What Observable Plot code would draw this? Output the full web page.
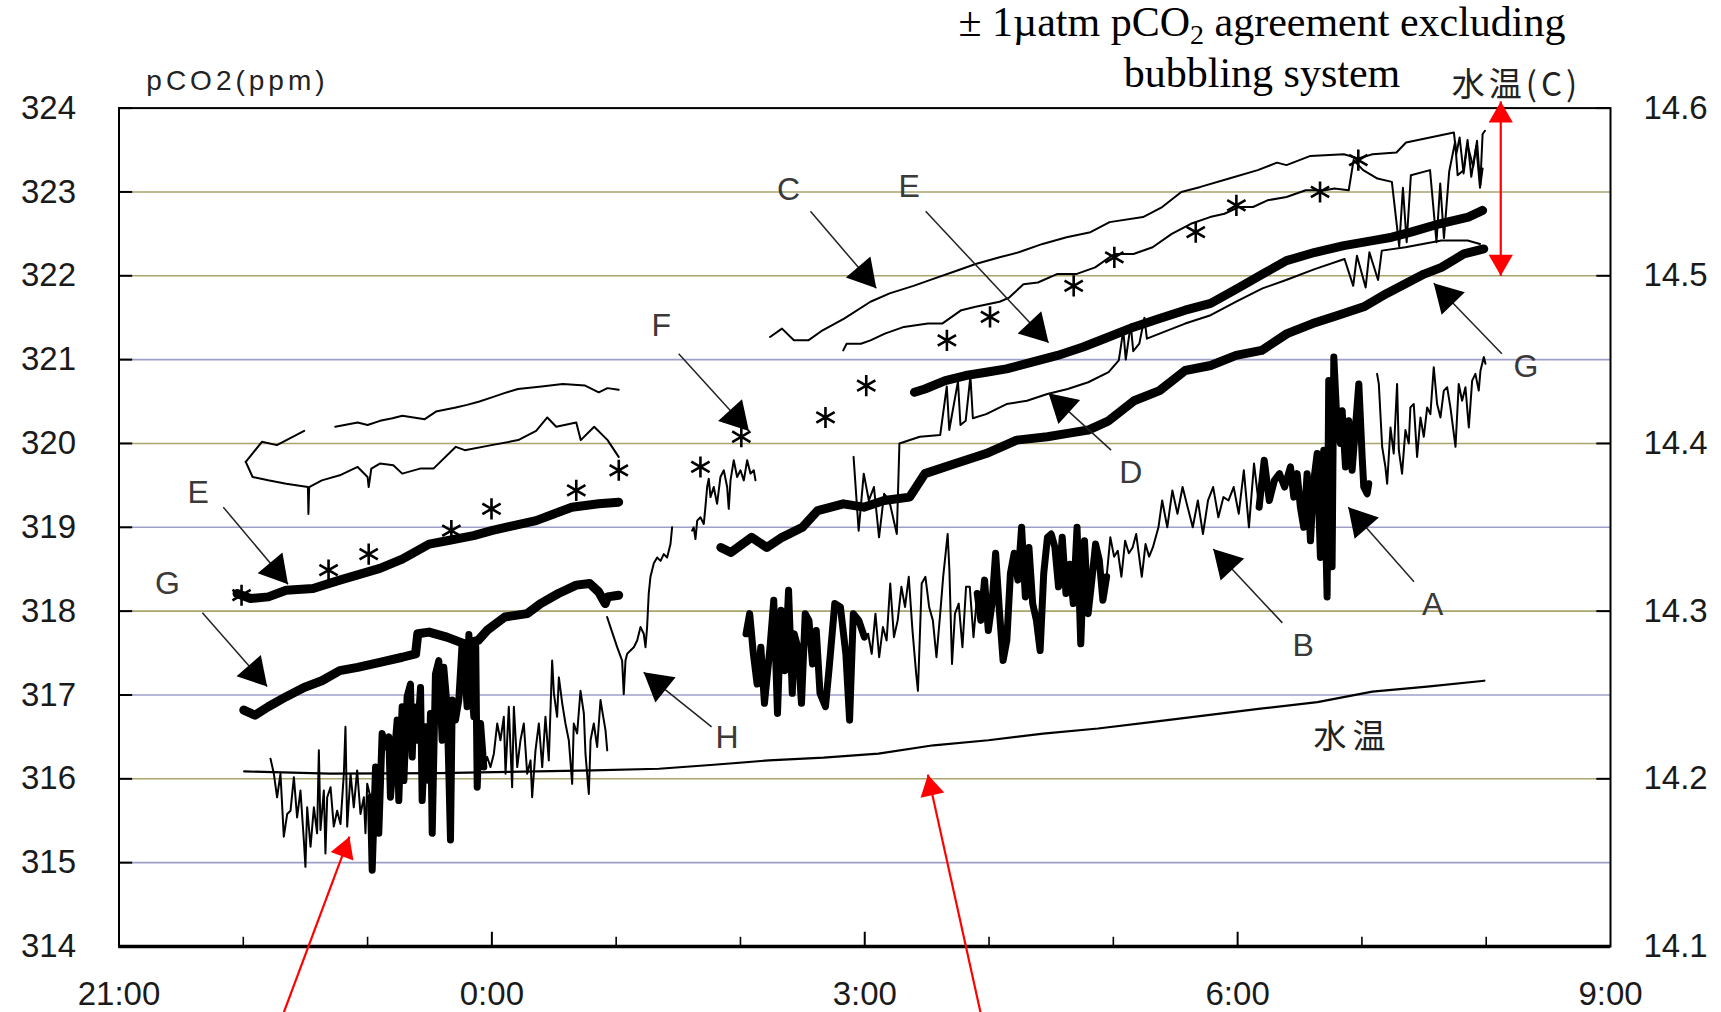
<!DOCTYPE html>
<html><head><meta charset="utf-8">
<script src="https://cdn.jsdelivr.net/npm/d3@7"></script>
<script src="https://cdn.jsdelivr.net/npm/@observablehq/plot@0.6"></script>
<style>
body{margin:0;background:#fff;}
#wrap{position:relative;width:1721px;height:1012px;overflow:hidden;background:#fff;}
#title{position:absolute;left:912px;top:-3px;width:700px;text-align:center;font-family:"Liberation Serif","Times New Roman",serif;font-size:42px;line-height:51px;color:#000;}
#title sub{font-size:28px;line-height:0;vertical-align:-8px;}
</style></head><body>
<div id="wrap"><div id="chart"></div><div id="title">± 1µatm pCO<sub>2</sub> agreement excluding<br>bubbling system</div></div>
<script>
// ---- axes (x in hours after 21:00) ----
const majorHours = [0, 3, 6, 9, 12];
const timeLabels = ["21:00", "0:00", "3:00", "6:00", "9:00"];
const minorHours = [1, 2, 4, 5, 7, 8, 10, 11];
const ppmTicks = [314, 315, 316, 317, 318, 319, 320, 321, 322, 323, 324];
const tempTicks = [14.1, 14.2, 14.3, 14.4, 14.5, 14.6];
const gridOlive = [323, 322, 320, 318, 316];
const gridBlue = [321, 319, 317, 315];

// ---- left group (22:00 - 1:00) ----
const cLeft = [[1.02,319.78],[1.15,320.02],[1.27,319.98],[1.49,320.15],[1.6,null],[1.74,320.20],[1.92,320.25],[2.0,320.22],[2.1,320.27],[2.2,320.30],[2.28,320.33],[2.46,320.29],[2.55,320.38],[2.71,320.43],[2.8,320.46],[2.9,320.50],[3.0,320.55],[3.1,320.60],[3.21,320.65],[3.4,320.68],[3.57,320.71],[3.75,320.69],[3.86,320.61],[3.93,320.66],[4.02,320.64]];
const dLeft = [[1.02,319.78],[1.075,319.60],[1.20,319.56],[1.345,319.52],[1.52,319.48],[1.524,319.16],[1.53,319.48],[1.632,319.56],[1.776,319.62],[1.92,319.72],[2.0,319.60],[2.009,319.48],[2.03,319.70],[2.099,319.76],[2.207,319.74],[2.279,319.64],[2.422,319.70],[2.53,319.70],[2.71,319.96],[2.782,319.92],[2.997,319.98],[3.212,320.04],[3.356,320.15],[3.446,320.31],[3.518,320.20],[3.679,320.25],[3.715,320.04],[3.823,320.20],[3.931,320.04],[4.02,319.84]];
const eLeft = [[0.95,318.21],[1.058,318.15],[1.201,318.17],[1.345,318.25],[1.561,318.27],[1.776,318.37],[2.099,318.51],[2.279,318.62],[2.495,318.80],[2.639,318.84],[2.853,318.90],[2.997,318.96],[3.356,319.08],[3.643,319.24],[3.859,319.28],[4.02,319.30]];
const gLeft = [[1.004,316.82],[1.094,316.76],[1.201,316.86],[1.345,316.98],[1.489,317.09],[1.632,317.17],[1.776,317.29],[1.92,317.33],[2.099,317.39],[2.279,317.45],[2.386,317.49],[2.404,317.73],[2.494,317.75],[2.638,317.69],[2.781,317.61],[2.889,317.65],[2.961,317.77],[3.104,317.93],[3.284,317.97],[3.392,318.09],[3.535,318.21],[3.679,318.31],[3.787,318.33],[3.859,318.23],[3.912,318.09],[3.93,318.17],[4.02,318.19]];
const noisyLeft = [[1.219,316.24],[1.246,316.06],[1.272,315.78],[1.299,316.06],[1.326,315.31],[1.353,315.58],[1.380,315.62],[1.407,316.02],[1.433,315.54],[1.460,315.86],[1.487,315.27],[1.500,314.95],[1.514,315.66],[1.541,315.19],[1.568,315.66],[1.594,315.35],[1.608,316.34],[1.621,315.39],[1.648,315.86],[1.661,315.11],[1.675,315.78],[1.702,315.90],[1.728,315.43],[1.755,315.62],[1.782,315.46],[1.809,316.06],[1.822,316.62],[1.836,315.43],[1.863,316.06],[1.889,315.66],[1.916,316.10],[1.943,315.58],[1.970,315.78],[1.983,315.35],[1.997,315.94],[2.023,315.78],[2.037,314.91],[2.064,316.14],[2.090,315.35],[2.117,316.54],[2.144,316.38],[2.171,316.50],[2.184,315.78],[2.211,316.26],[2.225,316.46],[2.238,316.70],[2.251,315.74],[2.278,316.86],[2.292,315.98],[2.318,316.98],[2.345,317.13],[2.359,316.26],[2.372,316.86],[2.399,316.46],[2.426,317.09],[2.439,315.74],[2.466,316.62],[2.493,315.98],[2.506,316.78],[2.520,315.35],[2.546,317.25],[2.573,317.41],[2.600,316.46],[2.613,317.33],[2.640,316.86],[2.654,316.06],[2.667,315.27],[2.681,316.94],[2.707,316.70],[2.734,316.94],[2.761,317.62],[2.788,317.13],[2.801,316.86],[2.815,317.72],[2.828,317.25],[2.855,316.74],[2.87,317.58],[2.882,315.90],[2.895,316.46],[2.909,316.66],[2.935,316.14],[2.962,316.26],[2.989,316.14],[3.016,316.30],[3.043,316.66],[3.069,316.46],[3.096,316.74],[3.110,316.06],[3.136,316.86],[3.163,315.90],[3.177,316.86],[3.204,316.14],[3.230,316.46],[3.257,316.66],[3.284,316.06],[3.311,316.22],[3.324,315.78],[3.351,316.34],[3.378,316.66],[3.405,316.14],[3.431,316.74],[3.458,316.22],[3.485,317.41],[3.499,317.02],[3.525,316.74],[3.539,317.21],[3.566,316.90],[3.592,316.66],[3.619,316.46],[3.646,315.94],[3.659,316.66],[3.686,316.54],[3.713,317.05],[3.740,316.78],[3.753,316.30],[3.780,315.82],[3.794,316.46],[3.820,316.66],[3.847,316.38],[3.874,316.94],[3.887,316.82],[3.914,316.58],[3.928,316.34]];
const noisyLeftThick = [[2.0, 2.94]];

// ---- middle (H and F) ----
const hSeries = [[3.927,317.93],[3.954,317.81],[4.008,317.57],[4.048,317.41],[4.061,317.01],[4.075,317.41],[4.088,317.49],[4.115,317.53],[4.142,317.57],[4.169,317.65],[4.196,317.81],[4.222,317.73],[4.236,317.57],[4.249,317.81],[4.262,318.21],[4.276,318.41],[4.303,318.57],[4.33,318.64],[4.357,318.60],[4.383,318.68],[4.41,318.64],[4.437,318.80],[4.45,319.00]];
const fNoisy = [[4.611,318.96],[4.624,319.00],[4.638,318.86],[4.652,319.08],[4.678,319.12],[4.705,319.04],[4.718,319.24],[4.732,319.48],[4.745,319.58],[4.759,319.36],[4.785,319.48],[4.812,319.28],[4.839,319.60],[4.866,319.68],[4.893,319.48],[4.906,319.22],[4.92,319.56],[4.946,319.80],[4.973,319.60],[5.0,319.68],[5.027,319.56],[5.054,319.80],[5.081,319.64],[5.107,319.68],[5.121,319.56]];
const fStars = [[0.986,318.19],[1.686,318.49],[2.009,318.68],[2.674,318.96],[2.997,319.22],[3.679,319.44],[4.021,319.68],[4.678,319.72],[5.007,320.08],[5.684,320.31],[6.012,320.69],[6.661,321.23],[7.008,321.51],[7.681,321.88],[8.008,322.22],[8.663,322.52],[8.99,322.84],[9.663,323.00],[9.971,323.38]];

// ---- right group (1:50 - 8:00) ----
const cRight = [[5.238,321.27],[5.334,321.37],[5.43,321.23],[5.546,321.23],[5.661,321.35],[5.834,321.49],[6.046,321.69],[6.2,321.79],[6.392,321.88],[6.546,321.96],[6.739,322.06],[6.892,322.14],[7.085,322.22],[7.239,322.28],[7.431,322.38],[7.624,322.46],[7.816,322.52],[7.97,322.64],[8.239,322.70],[8.393,322.82],[8.547,323.00],[8.701,323.06],[8.932,323.16],[9.162,323.26],[9.317,323.35],[9.393,323.32],[9.586,323.43],[9.855,323.45],[9.971,323.40],[10.086,323.45],[10.278,323.47],[10.355,323.59],[10.548,323.65],[10.74,323.71],[10.759,323.45],[10.786,323.65],[10.818,323.22],[10.848,323.57],[10.895,323.30],[10.926,323.61],[10.952,323.08],[10.971,323.69],[10.99,323.73]];
const eRight = [[5.827,321.11],[5.854,321.19],[5.969,321.19],[6.046,321.23],[6.162,321.31],[6.315,321.39],[6.508,321.43],[6.623,321.43],[6.777,321.59],[6.892,321.63],[7.085,321.69],[7.162,321.74],[7.277,321.90],[7.393,321.92],[7.546,322.02],[7.701,322.02],[7.854,322.10],[8.008,322.26],[8.162,322.26],[8.316,322.34],[8.47,322.50],[8.624,322.62],[8.778,322.70],[8.894,322.74],[9.009,322.82],[9.124,322.82],[9.24,322.90],[9.393,322.94],[9.548,323.02],[9.702,323.02],[9.779,323.04],[9.894,323.02],[9.933,323.38],[10.01,323.26],[10.125,323.16],[10.241,323.12],[10.30,322.35],[10.33,323.05],[10.36,322.40],[10.394,323.20],[10.548,323.26],[10.60,322.40],[10.63,323.10],[10.66,322.45],[10.702,323.24],[10.75,323.60],[10.77,323.20],[10.818,323.26],[10.85,323.62],[10.88,323.18],[10.92,323.55],[10.95,323.05],[10.971,323.28]];
const thickRight = [[6.40,320.61],[6.484,320.65],[6.648,320.75],[6.812,320.81],[6.977,320.85],[7.141,320.89],[7.346,320.97],[7.551,321.05],[7.757,321.15],[7.962,321.27],[8.167,321.39],[8.372,321.49],[8.578,321.59],[8.783,321.67],[9.0,321.85],[9.2,322.02],[9.393,322.18],[9.624,322.28],[9.855,322.36],[10.086,322.42],[10.241,322.46],[10.394,322.52],[10.625,322.62],[10.856,322.70],[10.971,322.78]];
const dRight = [[5.91,319.84],[5.951,318.96],[5.992,319.64],[6.033,319.32],[6.074,319.48],[6.115,318.88],[6.156,319.40],[6.197,319.32],[6.258,318.92],[6.279,320.00],[6.443,320.08],[6.607,320.10],[6.66,320.68],[6.68,320.16],[6.75,320.74],[6.77,320.22],[6.812,320.27],[6.85,320.80],[6.87,320.30],[6.977,320.35],[7.141,320.47],[7.305,320.51],[7.469,320.59],[7.633,320.65],[7.798,320.73],[7.962,320.85],[8.044,320.99],[8.08,321.35],[8.10,321.00],[8.14,321.42],[8.16,321.10],[8.209,321.19],[8.25,321.50],[8.27,321.25],[8.372,321.31],[8.578,321.43],[8.783,321.53],[9.0,321.70],[9.2,321.85],[9.39,321.95],[9.62,322.08],[9.86,322.20],[9.93,321.88],[9.96,322.24],[10.03,321.86],[10.06,322.28],[10.13,321.95],[10.16,322.30],[10.35,322.34],[10.64,322.42],[10.85,322.42],[10.95,322.38]];
const gRight = [[4.842,318.76],[4.924,318.70],[5.089,318.88],[5.212,318.76],[5.335,318.88],[5.499,319.00],[5.622,319.20],[5.828,319.28],[5.992,319.24],[6.156,319.32],[6.361,319.36],[6.484,319.64],[6.73,319.76],[6.977,319.88],[7.223,320.04],[7.469,320.08],[7.633,320.12],[7.798,320.16],[7.962,320.27],[8.167,320.51],[8.372,320.63],[8.578,320.87],[8.783,320.93],[8.988,321.05],[9.193,321.11],[9.398,321.31],[9.603,321.43],[9.809,321.53],[10.015,321.63],[10.2,321.79],[10.5,322.02],[10.64,322.10],[10.82,322.26],[10.98,322.32]];
const noisyRight = [[5.045,317.73],[5.074,317.97],[5.104,317.49],[5.134,317.13],[5.164,317.57],[5.193,316.90],[5.238,317.57],[5.268,318.13],[5.298,316.78],[5.327,318.01],[5.357,317.29],[5.387,318.25],[5.417,317.02],[5.432,317.73],[5.461,317.57],[5.491,316.90],[5.521,317.97],[5.551,317.89],[5.580,317.37],[5.610,317.77],[5.640,317.02],[5.684,316.86],[5.714,317.33],[5.759,318.09],[5.804,318.05],[5.848,317.49],[5.878,316.70],[5.908,317.97],[5.952,317.89],[5.997,317.69],[6.027,317.73],[6.056,317.49],[6.086,317.97],[6.116,317.45],[6.146,317.81],[6.176,317.65],[6.205,318.33],[6.235,317.69],[6.265,317.89],[6.295,318.29],[6.324,318.05],[6.354,318.41],[6.384,317.77],[6.414,317.25],[6.428,317.05],[6.458,318.33],[6.488,318.41],[6.518,318.05],[6.548,317.89],[6.577,317.45],[6.607,317.97],[6.631,318.41],[6.667,318.92],[6.681,318.49],[6.702,317.37],[6.726,317.97],[6.756,318.09],[6.786,317.57],[6.815,318.29],[6.845,318.29],[6.875,317.69],[6.905,318.21],[6.934,317.89],[6.964,318.37],[6.994,317.77],[7.024,318.09],[7.053,318.69],[7.083,318.01],[7.113,317.41],[7.143,317.65],[7.172,318.45],[7.202,318.69],[7.232,318.37],[7.262,319.00],[7.292,318.17],[7.321,318.76],[7.351,318.09],[7.381,317.89],[7.411,317.53],[7.440,318.45],[7.470,318.88],[7.500,318.92],[7.530,318.76],[7.559,318.29],[7.589,318.88],[7.619,318.21],[7.649,318.56],[7.678,318.09],[7.708,319.00],[7.738,317.61],[7.768,318.84],[7.797,317.97],[7.827,318.37],[7.857,318.80],[7.887,318.61],[7.916,318.13],[7.946,318.41],[7.976,318.88],[8.006,318.65],[8.036,318.72],[8.065,318.41],[8.095,318.84],[8.125,318.69],[8.155,318.76],[8.184,318.92],[8.229,318.41],[8.259,318.80],[8.288,318.65],[8.318,318.76],[8.363,319.00],[8.393,319.32],[8.434,319.00],[8.475,319.44],[8.516,319.16],[8.557,319.48],[8.598,319.24],[8.639,319.00],[8.680,319.32],[8.721,318.92],[8.762,319.32],[8.803,319.48],[8.845,319.12],[8.886,319.36],[8.927,319.32],[8.968,319.48],[9.009,319.16],[9.050,319.68],[9.091,319.00],[9.132,319.76],[9.173,319.24],[9.214,319.80],[9.255,319.32],[9.296,319.56],[9.337,319.64],[9.378,319.48],[9.425,319.72],[9.452,319.36],[9.479,319.64],[9.505,319.24],[9.532,319.00],[9.559,319.64],[9.586,318.84],[9.613,319.56],[9.640,319.88],[9.666,318.64],[9.693,319.92],[9.720,318.17],[9.733,320.75],[9.760,318.53],[9.774,321.03],[9.800,320.23],[9.827,320.00],[9.841,320.39],[9.868,319.72],[9.894,320.27],[9.921,319.68],[9.948,320.19],[9.975,320.71],[10.002,319.84],[10.015,319.48],[10.042,319.40],[10.055,319.52],[10.09,null],[10.122,320.83],[10.136,320.71],[10.163,319.96],[10.189,319.72],[10.203,319.52],[10.230,320.19],[10.256,319.88],[10.283,320.71],[10.297,319.92],[10.323,319.64],[10.350,320.16],[10.377,320.00],[10.390,320.43],[10.417,320.47],[10.444,319.84],[10.471,320.31],[10.498,320.08],[10.525,320.43],[10.551,320.35],[10.578,320.91],[10.605,320.47],[10.632,320.31],[10.659,320.63],[10.686,320.67],[10.712,320.43],[10.753,319.96],[10.779,320.71],[10.806,320.51],[10.833,320.67],[10.860,320.19],[10.887,320.75],[10.913,320.83],[10.940,320.63],[10.954,320.87],[10.981,321.03],[10.994,320.95]];
const noisyRightThick = [[5.04, 6.0], [6.88, 7.95], [9.15, 10.06]];

// water temperature (deg C)
const waterTemp = [[1.007,14.2044],[1.696,14.2031],[2.578,14.2034],[3.02,14.204],[3.815,14.205],[4.345,14.206],[4.786,14.2084],[5.228,14.211],[5.669,14.2126],[6.11,14.215],[6.553,14.220],[6.994,14.223],[7.435,14.227],[7.877,14.230],[8.319,14.234],[8.76,14.238],[9.201,14.242],[9.642,14.2457],[10.084,14.252],[10.525,14.255],[10.985,14.2585]];

// ---- annotations (data units) ----
const seriesLabels = [
  {t:"E", x:0.636, y:319.41}, {t:"G", x:0.389, y:318.33}, {t:"H", x:4.892, y:316.49},
  {t:"C", x:5.386, y:323.03}, {t:"E", x:6.358, y:323.06}, {t:"F", x:4.362, y:321.40},
  {t:"D", x:8.141, y:319.65}, {t:"G", x:11.32, y:320.92}, {t:"A", x:10.57, y:318.08},
  {t:"B", x:9.528, y:317.59}
];
const blackArrows = [
  {x1:0.839,y1:319.24,x2:1.36,y2:318.32}, {x1:0.671,y1:317.98,x2:1.192,y2:317.10},
  {x1:4.768,y1:316.62,x2:4.221,y2:317.27}, {x1:5.563,y1:322.77,x2:6.093,y2:321.85},
  {x1:6.49,y1:322.77,x2:7.479,y2:321.20}, {x1:4.503,y1:321.07,x2:5.068,y2:320.15},
  {x1:7.982,y1:319.92,x2:7.479,y2:320.60}, {x1:11.126,y1:321.07,x2:10.578,y2:321.91},
  {x1:10.419,y1:318.35,x2:9.89,y2:319.24}, {x1:9.36,y1:317.86,x2:8.804,y2:318.74}
];
const redArrows = [
  {x1:11.117,y1:323.0,x2:11.117,y2:324.08}, {x1:11.117,y1:323.0,x2:11.117,y2:322.0},
  {x1:1.325,y1:313.21,x2:1.854,y2:315.31}, {x1:6.932,y1:313.21,x2:6.508,y2:316.05}
];
const axisTitles = [
  {t:"pCO2(ppm)", x:0.953, y:324.32, font:"Liberation Sans", size:28},
  {t:"水温(C)", x:11.243, y:324.27, font:"Noto Sans CJK JP", size:33}
];
const tempLabel = [{t:"水温", x:9.925, y:316.49}];

// ---- geometry helpers ----
const W = 1721, H = 1012, ML = 118.5, MR = 111, MT = 107.6, MB = 66;
const kx = (W - ML - MR) / 12, ky = (H - MT - MB) / 10;
const tempToY = t => 314 + (t - 14.1) * 20;
function heads(arrows, r) {
  const back = 1.555 * r;
  return arrows.map(a => {
    const dx = (a.x2 - a.x1) * kx, dy = -(a.y2 - a.y1) * ky;
    const L = Math.hypot(dx, dy), ux = dx / L, uy = dy / L;
    return {x: a.x2 - ux * back / kx, y: a.y2 + uy * back / ky, rot: Math.atan2(dx, -dy) * 180 / Math.PI};
  });
}
function onlyRanges(data, ranges) {
  return data.map(d => ranges.some(([a, b]) => d[0] >= a && d[0] <= b) ? d : [d[0], null]);
}
const L = (data, w, extra = {}) => Plot.line(data, {x: d => d[0], y: d => d[1], stroke: "#000", strokeWidth: w, strokeLinejoin: "round", strokeLinecap: "round", ...extra});

const chart = Plot.plot({
  width: W, height: H,
  marginTop: MT, marginBottom: MB, marginLeft: ML, marginRight: MR,
  x: {domain: [0, 12]},
  y: {domain: [314, 324]},
  style: {fontFamily: "Liberation Sans, Arial, sans-serif", fontSize: "33px", color: "#1a1a1a", background: "#fff", overflow: "visible"},
  marks: [
    Plot.ruleY(gridOlive, {stroke: "#a9a56c", strokeWidth: 1.6}),
    Plot.ruleY(gridBlue, {stroke: "#9fa0c8", strokeWidth: 1.6}),
    // temperature
    Plot.line(waterTemp, {x: d => d[0], y: d => tempToY(d[1]), stroke: "#000", strokeWidth: 2.2}),
    // left group
    L(cLeft, 2), L(dLeft, 2), L(eLeft, 9), L(gLeft, 9),
    L(noisyLeft, 2), L(onlyRanges(noisyLeft, noisyLeftThick), 7),
    // middle
    L(hSeries, 2), L(fNoisy, 2),
    // right group
    L(cRight, 2), L(eRight, 2), L(dRight, 2), L(thickRight, 9), L(gRight, 9),
    L(noisyRight, 2), L(onlyRanges(noisyRight, noisyRightThick), 7),
    Plot.dot(fStars, {x: d => d[0], y: d => d[1], symbol: "asterisk", r: 10, stroke: "#000", strokeWidth: 2.6}),
    // frame and ticks
    Plot.frame({stroke: "#000", strokeWidth: 2}),
    Plot.ruleY([314], {stroke: "#000", strokeWidth: 3.5}),
    Plot.ruleY(ppmTicks, {x1: 0, x2: 0.11, stroke: "#000", strokeWidth: 2}),
    Plot.ruleY(tempTicks.map(tempToY), {x1: 11.89, x2: 12, stroke: "#000", strokeWidth: 2}),
    Plot.ruleX(minorHours, {y1: 314, y2: 314.11, stroke: "#000", strokeWidth: 1.6}),
    Plot.ruleX(majorHours.slice(1, -1), {y1: 314, y2: 314.17, stroke: "#000", strokeWidth: 2}),
    Plot.axisY({anchor: "left", ticks: ppmTicks, tickFormat: d => String(d), tickSize: 0, tickPadding: 43}),
    Plot.axisY({anchor: "right", ticks: tempTicks.map(tempToY), tickFormat: d => ((d - 314) / 20 + 14.1).toFixed(1), tickSize: 0, tickPadding: 33}),
    Plot.axisX({anchor: "bottom", ticks: majorHours, tickFormat: d => timeLabels[majorHours.indexOf(d)], tickSize: 0, tickPadding: 35}),
    // labels
    Plot.text(seriesLabels, {x: "x", y: "y", text: "t", fontSize: 32, fill: "#3a3a3a"}),
    Plot.text(tempLabel, {x: "x", y: "y", text: "t", fontSize: 33, fill: "#222", fontFamily: "Noto Sans CJK JP"}),
    ...axisTitles.map(a => Plot.text([a], {x: "x", y: "y", text: "t", fontSize: a.size, fontFamily: a.font, fill: "#222"})),
    // black arrows
    Plot.link(blackArrows, {x1: "x1", y1: "y1", x2: "x2", y2: "y2", stroke: "#222", strokeWidth: 1.5}),
    Plot.dot(heads(blackArrows, 12), {x: "x", y: "y", rotate: "rot", symbol: "triangle", r: 12, fill: "#000"}),
    // red arrows
    Plot.link(redArrows, {x1: "x1", y1: "y1", x2: "x2", y2: "y2", stroke: "#ff0000", strokeWidth: 2.2}),
    Plot.dot(heads(redArrows, 9), {x: "x", y: "y", rotate: "rot", symbol: "triangle", r: 9, fill: "#ff0000"})
  ]
});
document.getElementById("chart").appendChild(chart);
// letter spacing for axis titles and in-plot labels
chart.querySelectorAll("text").forEach(t => {
  if (t.textContent === "pCO2(ppm)") t.style.letterSpacing = "4px";
  if (t.textContent === "水温(C)") t.style.letterSpacing = "4px";
  if (t.textContent === "水温") t.style.letterSpacing = "6px";
});
</script></body></html>
